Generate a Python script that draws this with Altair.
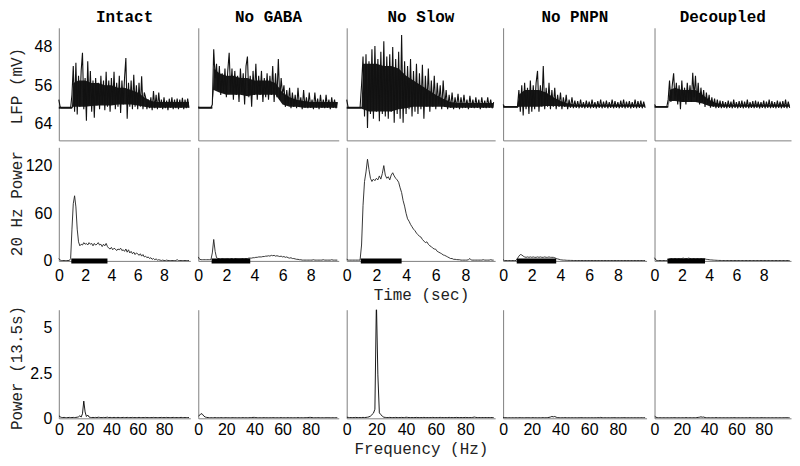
import altair as alt
import pandas as pd

PANELS = ["Intact", "No GABA", "No Slow", "No PNPN", "Decoupled"]
WIDTHS = [132, 141, 149, 144, 137]
H_LFP, H_POW, H_SPEC = 113, 114, 109

# time grid (s) and frequency grid (Hz)
T = [round(0.1 * i, 1) for i in range(100)]
F = list(range(100))

# ---------------- LFP traces (mV, plotted on reversed axis) ----------------
LFP_INTACT = [
    59.0, 60.5, 60.7, 60.7, 60.7, 60.7, 60.7, 60.7, 60.7, 60.7,
    58.0, 52.0, 61.5, 51.3, 62.1, 54.0, 60.5, 53.0, 49.2, 61.0,
    54.5, 63.4, 51.0, 60.0, 53.0, 61.5, 55.0, 62.8, 54.5, 60.2,
    55.5, 61.0, 54.0, 60.0, 55.0, 61.2, 53.2, 60.5, 55.0, 61.5,
    54.5, 60.0, 53.2, 61.0, 55.5, 60.5, 54.0, 61.8, 55.0, 60.0,
    54.5, 50.3, 63.0, 55.5, 60.5, 55.0, 61.0, 53.8, 60.5, 56.0,
    61.0, 55.5, 60.5, 54.1, 61.0, 57.5, 58.5, 61.0, 59.0, 60.8,
    58.5, 61.2, 57.2, 60.8, 58.0, 61.0, 57.5, 60.7, 59.0, 61.0,
    58.5, 60.8, 59.2, 61.2, 58.8, 60.7, 58.5, 61.0, 59.0, 60.8,
    58.8, 61.0, 59.0, 60.7, 58.6, 61.0, 59.0, 60.8, 58.8, 60.7]
LFP_NOGABA = [
    60.5, 60.7, 60.7, 60.7, 60.7, 60.7, 60.7, 60.7, 60.7, 60.7,
    60.0, 48.5, 54.5, 51.5, 57.0, 52.0, 58.0, 53.5, 57.5, 52.5,
    58.5, 53.0, 49.2, 57.5, 52.5, 59.0, 53.0, 58.0, 54.0, 59.5,
    52.5, 57.5, 53.5, 60.0, 52.0, 50.0, 58.5, 54.0, 60.5, 53.0,
    58.0, 51.5, 59.0, 54.0, 58.0, 53.0, 59.5, 54.5, 58.5, 53.5,
    59.0, 54.0, 58.0, 52.0, 59.5, 53.5, 58.5, 50.5, 59.0, 54.5,
    58.0, 56.0, 60.5, 57.0, 60.0, 56.5, 60.8, 57.5, 60.5, 58.0,
    60.8, 56.5, 60.5, 58.5, 61.0, 57.0, 60.7, 58.5, 60.8, 57.5,
    60.7, 59.0, 61.0, 57.5, 60.7, 58.8, 61.0, 58.0, 60.7, 59.0,
    60.8, 58.0, 60.7, 59.0, 61.0, 58.5, 60.7, 59.0, 60.8, 59.5]
LFP_NOSLOW = [
    59.0, 60.7, 60.7, 60.7, 60.7, 60.7, 60.7, 60.7, 60.7, 60.7,
    56.0, 50.0, 62.5, 49.5, 64.9, 51.0, 62.0, 48.5, 63.0, 47.8,
    61.5, 50.5, 63.5, 49.0, 62.0, 46.8, 62.5, 50.0, 63.0, 49.5,
    61.5, 48.0, 63.8, 50.5, 62.0, 49.0, 63.0, 45.5, 63.8, 51.0,
    62.0, 52.0, 61.0, 50.5, 62.5, 53.0, 61.5, 51.5, 62.0, 53.5,
    61.0, 51.7, 63.0, 54.0, 60.5, 52.5, 61.5, 55.0, 60.5, 54.0,
    61.0, 55.5, 60.0, 56.0, 61.0, 55.0, 60.5, 57.0, 61.0, 58.0,
    60.7, 57.5, 61.0, 58.5, 60.7, 57.8, 61.0, 58.5, 60.8, 58.0,
    60.7, 59.0, 61.0, 58.2, 60.7, 59.0, 60.8, 58.5, 60.7, 59.0,
    61.0, 58.5, 60.7, 59.2, 60.8, 58.5, 60.7, 59.0, 60.8, 59.5]
LFP_NOPNPN = [
    60.0, 60.5, 60.5, 60.5, 60.5, 60.5, 60.5, 60.5, 60.5, 60.5,
    60.5, 57.0, 61.5, 56.0, 62.3, 55.5, 61.0, 56.5, 62.0, 55.0,
    61.5, 56.0, 61.0, 55.5, 53.0, 61.5, 56.0, 60.5, 52.0, 61.0,
    56.5, 60.5, 55.5, 61.0, 57.0, 60.5, 56.5, 61.0, 58.0, 60.5,
    57.5, 61.0, 58.5, 60.5, 58.0, 61.0, 59.0, 60.7, 58.5, 60.8,
    59.2, 60.7, 59.3, 60.8, 59.0, 60.7, 59.5, 60.8, 59.2, 60.7,
    59.4, 60.8, 59.0, 60.7, 59.5, 60.8, 59.3, 60.7, 59.0, 60.8,
    59.4, 60.7, 59.2, 60.8, 59.5, 60.7, 59.0, 60.8, 59.3, 60.7,
    59.5, 60.8, 59.2, 60.7, 59.0, 60.8, 59.4, 60.7, 59.3, 60.8,
    59.5, 60.7, 59.0, 60.8, 59.3, 60.7, 59.2, 60.8, 59.4, 60.7]
LFP_DECOUPLED = [
    60.0, 60.5, 60.5, 60.5, 60.5, 60.5, 60.5, 60.5, 60.5, 60.5,
    59.0, 55.0, 59.5, 56.0, 53.5, 59.0, 55.5, 60.0, 56.0, 61.0,
    55.0, 59.5, 56.5, 60.0, 55.5, 59.0, 56.0, 59.5, 53.4, 58.5,
    54.0, 59.5, 55.5, 60.0, 56.5, 59.5, 57.0, 60.5, 57.5, 60.0,
    58.0, 60.7, 58.5, 60.5, 58.8, 60.8, 59.0, 60.7, 59.2, 60.8,
    59.3, 60.7, 59.5, 60.8, 59.2, 60.7, 59.4, 60.8, 59.0, 60.7,
    59.5, 60.8, 59.3, 60.7, 59.2, 60.8, 59.4, 60.7, 59.0, 60.8,
    59.5, 60.7, 59.3, 60.8, 59.2, 60.7, 59.4, 60.8, 59.5, 60.7,
    59.2, 60.8, 59.4, 60.7, 59.0, 60.8, 59.3, 60.7, 59.5, 60.8,
    59.2, 60.7, 59.4, 60.8, 59.3, 60.7, 59.0, 60.8, 59.4, 60.7]

# dense core of each LFP trace (upper / lower edge of the solid black band, mV)
ENV_T = [0, 1.0, 1.1, 1.5, 2.0, 2.5, 3.0, 3.5, 4.0, 4.5, 5.0, 5.5, 6.0, 6.5,
         7.0, 7.5, 8.0, 8.5, 9.0, 9.5, 9.9]
ENV_HI_INTACT = [60.5, 60.5, 55.5, 55.0, 55.0, 55.5, 55.5, 56.0, 56.0, 56.5, 56.5,
                 57.0, 57.5, 58.5, 59.3, 59.5, 59.5, 59.5, 59.5, 59.5, 59.5]
ENV_LO_INTACT = [60.9, 60.9, 60.5, 60.5, 60.5, 60.3, 60.2, 60.2, 60.2, 60.0, 60.0,
                 60.0, 60.2, 60.5, 60.7, 60.7, 60.7, 60.7, 60.7, 60.7, 60.7]
ENV_HI_NOGABA = [60.5, 60.5, 52.5, 53.5, 54.0, 54.0, 54.5, 54.5, 55.0, 55.0, 55.0,
                 55.5, 57.5, 58.5, 59.0, 59.3, 59.5, 59.5, 59.5, 59.5, 59.5]
ENV_LO_NOGABA = [60.9, 60.9, 57.0, 57.5, 58.0, 58.0, 58.0, 58.3, 58.0, 58.0, 58.0,
                 58.0, 60.0, 60.5, 60.5, 60.7, 60.7, 60.7, 60.7, 60.7, 60.7]
ENV_HI_NOSLOW = [60.5, 60.5, 51.5, 51.5, 51.5, 52.0, 52.0, 52.5, 54.0, 55.0, 56.0,
                 57.0, 58.0, 58.8, 59.5, 59.7, 59.7, 59.7, 59.7, 59.7, 59.7]
ENV_LO_NOSLOW = [60.9, 60.9, 61.0, 61.5, 61.5, 61.5, 61.5, 61.0, 60.8, 60.5, 60.5,
                 60.5, 60.5, 60.5, 60.7, 60.7, 60.7, 60.7, 60.7, 60.7, 60.7]
ENV_HI_NOPNPN = [60.3, 60.3, 58.0, 57.0, 57.0, 57.0, 57.5, 58.5, 59.3, 59.8, 60.0,
                 60.0, 60.0, 60.0, 60.0, 60.0, 60.0, 60.0, 60.0, 60.0, 60.0]
ENV_LO_NOPNPN = [60.7, 60.7, 60.5, 60.5, 60.5, 60.5, 60.3, 60.3, 60.4, 60.5, 60.5,
                 60.5, 60.5, 60.5, 60.5, 60.5, 60.5, 60.5, 60.5, 60.5, 60.5]
ENV_HI_DECOUPLED = [60.3, 60.3, 57.0, 56.5, 57.0, 57.0, 57.0, 58.0, 59.0, 59.7, 60.0,
                    60.0, 60.0, 60.0, 60.0, 60.0, 60.0, 60.0, 60.0, 60.0, 60.0]
ENV_LO_DECOUPLED = [60.7, 60.7, 59.3, 59.3, 59.5, 59.5, 59.5, 59.8, 60.3, 60.5, 60.5,
                    60.5, 60.5, 60.5, 60.5, 60.5, 60.5, 60.5, 60.5, 60.5, 60.5]

# ---------------- 20 Hz power vs time ----------------
POW_INTACT = [
    3, 1, 0.5, 0.5, 0.5, 0.5, 0.5, 0.5, 0.5, 3,
    40, 72, 82, 68, 40, 24, 19, 21, 20, 23,
    21, 22, 20, 23, 21, 22, 19, 22, 20, 21,
    23, 20, 21, 18, 21, 19, 22, 18, 16, 15,
    17, 14, 16, 15, 13, 15, 14, 16, 13, 14,
    12, 15, 11, 14, 10, 12, 9, 11, 8, 10,
    9, 7, 9, 6, 8, 5, 6, 4, 5, 3,
    4, 2, 3, 1.5, 2.5, 1, 1.5, 1, 0.5, 1,
    0.5, 0.5, 1, 0.5, 0.5, 0.5, 0.5, 0.5, 0.5, 0.5,
    1.5, 0.5, 0.5, 0.5, 0.5, 0.5, 0.5, 0.5, 0.5, 0.5]
POW_NOGABA = [
    5, 2, 1.5, 1.5, 1.5, 1.5, 1.5, 1.5, 1.5, 1.5,
    10, 27, 12, 4, 3, 3, 2.5, 3, 3, 2.5,
    3, 3, 2.5, 3, 3, 2.5, 3, 3, 3, 2.5,
    3, 3, 3, 3, 3, 3, 3.5, 3.5, 3.5, 4,
    4, 4.5, 4.5, 5, 5, 5, 5.5, 5.5, 6, 6,
    6.5, 6, 7, 6.5, 7, 6, 6.5, 6, 5.5, 6,
    5, 5.5, 4.5, 5, 4, 3.5, 4, 3, 3, 2.5,
    2, 2, 1.5, 1.5, 1, 1, 1, 1, 1, 1,
    1, 1, 1.5, 1, 1, 1, 1, 1, 1, 1.5,
    1, 1, 1, 1, 1, 1.5, 1, 1, 1, 1]
POW_NOSLOW = [
    2, 1, 1, 1, 1, 1, 1, 1, 1, 1,
    20, 70, 100, 112, 128, 115, 104, 100, 103, 101,
    104, 102, 107, 103, 110, 120, 108, 104, 106, 102,
    108, 111, 107, 104, 102, 99, 92, 86, 76, 69,
    60, 53, 50, 46, 43, 40, 38, 35, 33, 31,
    30, 27, 25, 23, 24, 21, 19, 18, 16, 15,
    14.7, 12, 11, 10, 9, 7.5, 7, 6, 5, 4,
    3, 3, 2, 2, 1.7, 1.5, 1.5, 1, 1, 1,
    1, 1, 1.5, 3, 1, 1, 1, 1, 1, 1,
    1, 1, 1.5, 1, 1, 1, 1, 1.5, 1, 1]
POW_NOPNPN = [
    1.5, 0.5, 0.5, 0.5, 0.5, 0.5, 0.5, 0.5, 0.5, 0.5,
    3, 6, 8, 7.5, 6, 5, 4.5, 5, 4.5, 5,
    4.5, 5, 4.5, 4.5, 5, 4.5, 5, 4.5, 4.5, 5,
    4.5, 4.5, 5, 4.5, 4.5, 4.5, 4, 3, 2.5, 2,
    1.5, 1.2, 1, 1, 0.8, 0.7, 0.7, 0.6, 0.6, 0.5,
    0.5, 0.5, 0.5, 0.5, 0.5, 0.5, 0.5, 0.5, 0.5, 0.5,
    0.5, 0.5, 0.5, 0.5, 0.5, 0.5, 0.5, 0.5, 0.5, 0.5,
    0.5, 0.5, 0.5, 0.5, 0.5, 0.5, 0.5, 0.5, 0.5, 0.5,
    0.5, 0.5, 0.5, 0.5, 0.5, 0.5, 0.5, 0.5, 0.5, 0.5,
    0.5, 0.5, 0.5, 0.5, 0.5, 0.5, 0.5, 0.5, 0.5, 0.5]
POW_DECOUPLED = [
    4, 1, 0.5, 0.5, 0.5, 0.5, 0.5, 0.5, 0.5, 0.5,
    1.5, 2.5, 3, 3, 3, 3, 3, 3, 3, 3,
    3, 3.5, 3, 3, 3, 3.5, 3, 3, 3, 3,
    3, 3, 3, 3, 3, 3, 3, 2.5, 2, 1.8,
    1.5, 1.3, 1.2, 1, 0.9, 0.8, 0.7, 0.6, 0.6, 0.5,
    0.5, 0.5, 0.5, 0.5, 0.5, 0.5, 0.5, 0.5, 0.5, 0.5,
    0.5, 0.5, 0.5, 0.5, 0.5, 0.5, 0.5, 0.5, 0.5, 0.5,
    0.5, 0.5, 0.5, 0.5, 0.5, 0.5, 0.5, 0.5, 0.5, 0.5,
    0.5, 0.5, 0.5, 0.5, 0.5, 0.5, 0.5, 0.5, 0.5, 0.5,
    0.5, 0.5, 0.5, 0.5, 0.5, 0.5, 0.5, 0.5, 0.5, 0.5]

# stimulus bar (s)
BAR_START = [0.95]
BAR_END = [3.7]

# ---------------- power spectrum over 13.5 s ----------------
SPEC_INTACT = [
    0.15, 0.08, 0.05, 0.04, 0.05, 0.04, 0.03, 0.04, 0.05, 0.04,
    0.04, 0.05, 0.04, 0.05, 0.06, 0.08, 0.14, 0.07, 0.25, 0.95,
    0.35, 0.10, 0.18, 0.07, 0.05, 0.04, 0.05, 0.04, 0.05, 0.04,
    0.06, 0.05, 0.04, 0.04, 0.05, 0.04, 0.05, 0.06, 0.04, 0.05,
    0.04, 0.04, 0.05, 0.04, 0.04, 0.05, 0.04, 0.04, 0.04, 0.05,
    0.04, 0.04, 0.05, 0.04, 0.04, 0.04, 0.05, 0.04, 0.04, 0.04,
    0.04, 0.05, 0.04, 0.04, 0.04, 0.04, 0.05, 0.04, 0.04, 0.04,
    0.04, 0.04, 0.05, 0.04, 0.04, 0.04, 0.04, 0.04, 0.05, 0.04,
    0.04, 0.04, 0.05, 0.04, 0.04, 0.04, 0.04, 0.05, 0.04, 0.04,
    0.04, 0.04, 0.04, 0.05, 0.04, 0.04, 0.04, 0.04, 0.04, 0.04]
SPEC_NOGABA = [
    0.10, 0.18, 0.26, 0.22, 0.12, 0.07, 0.05, 0.04, 0.03, 0.03,
    0.03, 0.03, 0.04, 0.03, 0.03, 0.03, 0.04, 0.03, 0.03, 0.03,
    0.04, 0.03, 0.03, 0.03, 0.03, 0.04, 0.03, 0.03, 0.03, 0.03,
    0.03, 0.03, 0.04, 0.03, 0.03, 0.03, 0.03, 0.04, 0.04, 0.05,
    0.05, 0.04, 0.03, 0.03, 0.03, 0.03, 0.03, 0.04, 0.03, 0.03,
    0.03, 0.03, 0.03, 0.04, 0.03, 0.03, 0.03, 0.03, 0.03, 0.04,
    0.03, 0.03, 0.03, 0.03, 0.04, 0.03, 0.03, 0.03, 0.03, 0.03,
    0.03, 0.04, 0.03, 0.03, 0.03, 0.03, 0.03, 0.04, 0.04, 0.05,
    0.05, 0.04, 0.03, 0.03, 0.03, 0.04, 0.03, 0.03, 0.03, 0.03,
    0.03, 0.03, 0.04, 0.03, 0.03, 0.03, 0.03, 0.03, 0.03, 0.03]
SPEC_NOSLOW = [
    0.06, 0.05, 0.04, 0.04, 0.04, 0.04, 0.05, 0.04, 0.04, 0.04,
    0.04, 0.05, 0.04, 0.05, 0.06, 0.08, 0.12, 0.20, 0.28, 0.50,
    6.50, 2.40, 0.30, 0.20, 0.12, 0.06, 0.05, 0.04, 0.04, 0.05,
    0.04, 0.04, 0.04, 0.05, 0.04, 0.04, 0.04, 0.05, 0.04, 0.04,
    0.06, 0.05, 0.04, 0.04, 0.04, 0.04, 0.04, 0.05, 0.04, 0.04,
    0.04, 0.04, 0.05, 0.04, 0.04, 0.04, 0.04, 0.04, 0.05, 0.04,
    0.04, 0.04, 0.04, 0.05, 0.04, 0.04, 0.04, 0.04, 0.04, 0.05,
    0.04, 0.04, 0.04, 0.04, 0.05, 0.04, 0.04, 0.04, 0.04, 0.04,
    0.05, 0.04, 0.04, 0.04, 0.04, 0.05, 0.07, 0.05, 0.04, 0.04,
    0.04, 0.04, 0.04, 0.04, 0.04, 0.04, 0.04, 0.04, 0.04, 0.04]
SPEC_NOPNPN = [
    0.05, 0.04, 0.03, 0.03, 0.03, 0.03, 0.03, 0.03, 0.03, 0.03,
    0.03, 0.03, 0.04, 0.03, 0.03, 0.03, 0.03, 0.04, 0.03, 0.03,
    0.03, 0.04, 0.03, 0.03, 0.03, 0.03, 0.03, 0.03, 0.04, 0.03,
    0.03, 0.04, 0.05, 0.07, 0.10, 0.08, 0.10, 0.06, 0.04, 0.03,
    0.03, 0.03, 0.03, 0.04, 0.03, 0.03, 0.03, 0.03, 0.03, 0.03,
    0.03, 0.03, 0.03, 0.03, 0.04, 0.03, 0.03, 0.03, 0.03, 0.03,
    0.03, 0.03, 0.03, 0.03, 0.03, 0.03, 0.04, 0.03, 0.05, 0.03,
    0.03, 0.03, 0.03, 0.03, 0.03, 0.03, 0.03, 0.04, 0.03, 0.03,
    0.03, 0.03, 0.03, 0.03, 0.04, 0.03, 0.03, 0.03, 0.03, 0.03,
    0.03, 0.03, 0.03, 0.03, 0.03, 0.03, 0.03, 0.03, 0.03, 0.03]
SPEC_DECOUPLED = [
    0.12, 0.06, 0.04, 0.03, 0.03, 0.03, 0.03, 0.03, 0.03, 0.03,
    0.03, 0.03, 0.03, 0.03, 0.04, 0.03, 0.03, 0.03, 0.03, 0.03,
    0.03, 0.03, 0.03, 0.04, 0.03, 0.03, 0.03, 0.03, 0.03, 0.03,
    0.03, 0.04, 0.05, 0.06, 0.08, 0.06, 0.07, 0.04, 0.03, 0.03,
    0.03, 0.03, 0.03, 0.03, 0.03, 0.04, 0.03, 0.03, 0.03, 0.03,
    0.03, 0.03, 0.03, 0.03, 0.03, 0.03, 0.03, 0.03, 0.04, 0.03,
    0.03, 0.03, 0.03, 0.03, 0.03, 0.03, 0.03, 0.03, 0.03, 0.03,
    0.04, 0.03, 0.03, 0.03, 0.03, 0.03, 0.03, 0.03, 0.03, 0.04,
    0.03, 0.03, 0.03, 0.03, 0.03, 0.03, 0.03, 0.03, 0.03, 0.03,
    0.03, 0.03, 0.03, 0.03, 0.03, 0.03, 0.04, 0.03, 0.03, 0.03]

LFP = [LFP_INTACT, LFP_NOGABA, LFP_NOSLOW, LFP_NOPNPN, LFP_DECOUPLED]
ENV_HI = [ENV_HI_INTACT, ENV_HI_NOGABA, ENV_HI_NOSLOW, ENV_HI_NOPNPN, ENV_HI_DECOUPLED]
ENV_LO = [ENV_LO_INTACT, ENV_LO_NOGABA, ENV_LO_NOSLOW, ENV_LO_NOPNPN, ENV_LO_DECOUPLED]
POW = [POW_INTACT, POW_NOGABA, POW_NOSLOW, POW_NOPNPN, POW_DECOUPLED]
SPEC = [SPEC_INTACT, SPEC_NOGABA, SPEC_NOSLOW, SPEC_NOPNPN, SPEC_DECOUPLED]

MONO = "Liberation Mono"
SANS = "Liberation Sans"
AXIS_GRAY = "#808080"


def left_axis(first, values, title, title_y):
    if first:
        return alt.Axis(values=values, title=title, titleX=-42, titleY=title_y,
                        titleAngle=270, titleAlign="center", titleBaseline="middle",
                        labelPadding=7, format=".1~f")
    return alt.Axis(labels=False, title=None)


def lfp_chart(k):
    df = pd.DataFrame({"t": T, "v": LFP[k]})
    env = pd.DataFrame({"t": ENV_T, "hi": ENV_HI[k], "lo": ENV_LO[k]})
    xs = alt.Scale(domain=[0, 10], nice=False)
    ys = alt.Scale(domain=[44, 67.5], reverse=True, nice=False, zero=False)
    xa = alt.Axis(labels=False, title=None)
    ya = left_axis(k == 0, [48, 56, 64], "LFP (mV)", 58)
    band = alt.Chart(env).mark_area(color="black", opacity=0.9).encode(
        x=alt.X("t:Q", scale=xs, axis=xa),
        y=alt.Y("hi:Q", scale=ys, axis=ya),
        y2="lo:Q",
    )
    line = alt.Chart(df).mark_line(color="#111", strokeWidth=1.1).encode(
        x=alt.X("t:Q", scale=xs, axis=xa),
        y=alt.Y("v:Q", scale=ys, axis=ya),
    )
    return alt.layer(band, line, title=alt.TitleParams(
        PANELS[k], font=MONO, fontSize=16, fontWeight="bold", color="black",
        anchor="middle", offset=3)).properties(width=WIDTHS[k], height=H_LFP)


def pow_chart(k):
    df = pd.DataFrame({"t": T, "v": POW[k]})
    bar = pd.DataFrame({"s": BAR_START, "e": BAR_END, "y": [0]})
    xt = "Time (sec)" if k == 2 else None
    if xt:
        xa = alt.Axis(values=[0, 2, 4, 6, 8], labelPadding=7, titlePadding=3, title=xt)
    else:
        xa = alt.Axis(values=[0, 2, 4, 6, 8], labelPadding=7, title=None)
    xs = alt.Scale(domain=[0, 10], nice=False)
    ys = alt.Scale(domain=[0, 143], nice=False)
    ya = left_axis(k == 0, [0, 60, 120], "20 Hz Power", 56)
    line = alt.Chart(df).mark_line(color="#222", strokeWidth=0.9).encode(
        x=alt.X("t:Q", scale=xs, axis=xa),
        y=alt.Y("v:Q", scale=ys, axis=ya),
    )
    rule = alt.Chart(bar).mark_rule(color="black", strokeWidth=5).encode(
        x=alt.X("s:Q", scale=xs, axis=xa), x2="e:Q",
        y=alt.Y("y:Q", scale=ys, axis=ya))
    return alt.layer(line, rule).properties(width=WIDTHS[k], height=H_POW)


def spec_chart(k):
    df = pd.DataFrame({"f": F, "v": SPEC[k]})
    xt = "Frequency (Hz)" if k == 2 else None
    if xt:
        xa = alt.Axis(values=[0, 20, 40, 60, 80], labelPadding=3, titlePadding=3, title=xt)
    else:
        xa = alt.Axis(values=[0, 20, 40, 60, 80], labelPadding=3, title=None)
    return alt.Chart(df).mark_line(color="black", strokeWidth=0.9, clip=True).encode(
        x=alt.X("f:Q", scale=alt.Scale(domain=[0, 100], nice=False), axis=xa),
        y=alt.Y("v:Q", scale=alt.Scale(domain=[0, 6], nice=False),
                axis=left_axis(k == 0, [0, 2.5, 5], "Power (13.5s)", 58)),
    ).properties(width=WIDTHS[k], height=H_SPEC)


row1 = alt.hconcat(*[lfp_chart(k) for k in range(5)], spacing=8, bounds="flush")
row2 = alt.hconcat(*[pow_chart(k) for k in range(5)], spacing=8, bounds="flush")
row3 = alt.hconcat(*[spec_chart(k) for k in range(5)], spacing=8, bounds="flush")

top = alt.vconcat(row1, row2, spacing=7)
chart = alt.vconcat(top, row3, spacing=2).properties(
    padding={"left": 0, "top": 0, "right": 0, "bottom": 6}
).configure_view(strokeWidth=0).configure_axis(
    domainColor=AXIS_GRAY, domainWidth=1, ticks=False, tickSize=0, grid=False,
    labelFont=SANS, labelFontSize=16, labelColor="black", labelFlush=False,
    labelOverlap=False,
    titleFont=MONO, titleFontSize=16, titleFontWeight="normal", titleColor="#222",
)

chart.save("out.html", embed_options={"renderer": "svg", "actions": False})
